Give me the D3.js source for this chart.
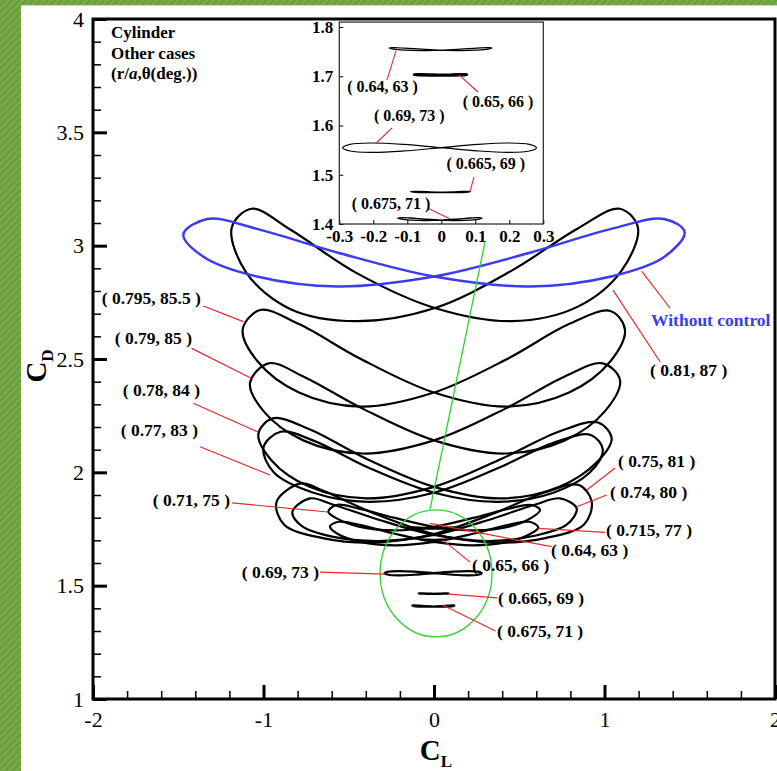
<!DOCTYPE html>
<html><head><meta charset="utf-8">
<script src="https://cdn.jsdelivr.net/npm/d3@7"></script>
<style>body{margin:0;background:#fff;} svg{display:block;}</style>
</head><body>
<script>
// ---------- DATA (CL, CD) ----------
const withoutControl = [[0,2.864],[0.563,2.969],[1.039,3.074],[1.35,3.118],[1.47,3.06],[1.35,2.95],[1.039,2.864],[0.563,2.82],
  [0,2.864],[-0.563,2.969],[-1.039,3.074],[-1.33,3.118],[-1.47,3.05],[-1.35,2.95],[-1.039,2.864],[-0.563,2.82]];
const case081 = [[0.005,2.725],[0.456,2.89],[0.841,3.075],[1.09,3.163],[1.196,3.08],[1.1,2.89],[0.841,2.73],[0.456,2.667],
  [0.005,2.725],[-0.456,2.88],[-0.841,3.07],[-1.07,3.163],[-1.186,3.08],[-1.1,2.88],[-0.841,2.72],[-0.456,2.667]];
const case0795 = [[0,2.352],[0.429,2.5],[0.792,2.654],[1.035,2.712],[1.12,2.63],[1.035,2.49],[0.792,2.352],[0.429,2.29],
  [0,2.352],[-0.429,2.5],[-0.792,2.654],[-1.02,2.716],[-1.122,2.63],[-1.035,2.49],[-0.792,2.352],[-0.429,2.29]];
const case079 = [[0,2.141],[0.416,2.28],[0.767,2.423],[0.99,2.481],[1.091,2.407],[1.003,2.27],[0.767,2.141],[0.416,2.083],
  [0,2.141],[-0.416,2.28],[-0.767,2.423],[-0.97,2.481],[-1.079,2.395],[-1.0,2.27],[-0.767,2.141],[-0.416,2.083]];
const case078 = [[0,1.936],[0.397,2.06],[0.735,2.18],[0.962,2.22],[1.042,2.15],[0.962,2.05],[0.735,1.936],[0.397,1.885],
  [0,1.936],[-0.397,2.06],[-0.73,2.19],[-0.945,2.238],[-1.03,2.17],[-0.95,2.05],[-0.73,1.936],[-0.397,1.885]];
const case077 = [[0,1.91],[0.38,2.02],[0.7,2.13],[0.92,2.165],[0.99,2.1],[0.915,2.0],[0.7,1.91],[0.38,1.87],
  [0,1.91],[-0.383,2.02],[-0.707,2.14],[-0.9,2.179],[-1.0,2.11],[-0.94,2.0],[-0.707,1.91],[-0.383,1.87]];
const case075 = [[0,1.728],[0.354,1.82],[0.653,1.912],[0.85,1.944],[0.925,1.87],[0.88,1.77],[0.653,1.71],[0.354,1.69],
  [0,1.728],[-0.354,1.82],[-0.653,1.92],[-0.78,1.951],[-0.923,1.87],[-0.88,1.77],[-0.653,1.71],[-0.354,1.69]];
const case074 = [[0,1.724],[0.32,1.79],[0.59,1.857],[0.74,1.885],[0.837,1.84],[0.78,1.77],[0.59,1.72],[0.32,1.697],
  [0,1.724],[-0.32,1.79],[-0.59,1.857],[-0.727,1.885],[-0.831,1.825],[-0.77,1.76],[-0.59,1.715],[-0.32,1.697]];
const case0715 = [[0,1.693],[0.234,1.73],[0.43,1.767],[0.56,1.782],[0.612,1.757],[0.564,1.728],[0.43,1.693],[0.234,1.678],
  [0,1.693],[-0.234,1.73],[-0.43,1.767],[-0.56,1.782],[-0.61,1.761],[-0.564,1.728],[-0.43,1.693],[-0.234,1.678]];
const case071 = [[0,1.76],[0.237,1.8],[0.44,1.84],[0.573,1.856],[0.622,1.834],[0.573,1.8],[0.44,1.76],[0.237,1.744],
  [0,1.76],[-0.237,1.8],[-0.44,1.84],[-0.573,1.856],[-0.62,1.826],[-0.573,1.798],[-0.44,1.76],[-0.237,1.744]];
const case064 = [[0,1.7529],[0.057,1.755],[0.106,1.7571],[0.138,1.758],[0.149,1.7571],[0.138,1.755],[0.106,1.7529],[0.057,1.752],
  [0,1.7529],[-0.058,1.755],[-0.108,1.7571],[-0.141,1.758],[-0.153,1.7571],[-0.141,1.755],[-0.108,1.7529],[-0.058,1.752]];
const case065 = [[0,1.7025],[0.03,1.703],[0.055,1.7035],[0.072,1.7037],[0.075,1.7035],[0.072,1.703],[0.055,1.7025],[0.03,1.7023],
  [0,1.7025],[-0.03,1.703],[-0.057,1.7035],[-0.074,1.7037],[-0.08,1.7035],[-0.074,1.703],[-0.057,1.7025],[-0.03,1.7023]];
const case069 = [[0,1.555],[0.107,1.5617],[0.198,1.5645],[0.259,1.5617],[0.28,1.555],[0.259,1.5483],[0.198,1.5455],[0.107,1.5483],
  [0,1.555],[-0.111,1.5617],[-0.205,1.5645],[-0.268,1.5617],[-0.29,1.555],[-0.268,1.5483],[-0.205,1.5455],[-0.111,1.5483]];
const case0665 = [[0,1.4643],[0.033,1.465],[0.061,1.4657],[0.079,1.466],[0.086,1.4657],[0.079,1.465],[0.061,1.4643],[0.033,1.464],
  [0,1.4643],[-0.034,1.465],[-0.064,1.4657],[-0.083,1.466],[-0.09,1.4657],[-0.083,1.465],[-0.064,1.4643],[-0.034,1.464]];
const case0675 = [[0,1.4079],[0.046,1.41],[0.085,1.4121],[0.111,1.413],[0.12,1.4121],[0.111,1.41],[0.085,1.4079],[0.046,1.407],
  [0,1.4079],[-0.049,1.41],[-0.09,1.4121],[-0.118,1.413],[-0.128,1.4121],[-0.118,1.41],[-0.09,1.4079],[-0.049,1.407]];

const xTickLabels = [-2,-1,0,1,2];
const yTickLabels = [1,1.5,2,2.5,3,3.5,4];
const insetXTicks = [-0.3,-0.2,-0.1,0,0.1,0.2,0.3];
const insetYTicks = [1.4,1.5,1.6,1.7,1.8];
const legendLines = ["Cylinder","Other cases"];

const blackCases = [case081, case0795, case079, case078, case077, case075, case074, case0715, case071,
                    case064, case065, case069, case0665, case0675];
const insetCases = [case064, case065, case069, case0665, case0675];
const insetWidths = [1.2, 3, 1.2, 1.6, 1.4];

// annotations (data coordinates)
const mainNotes = [
  {t:"Without control", a:"start", p:[1.273,2.672], l:[[1.218,2.888],[1.384,2.725]], blue:true},
  {t:"( 0.81, 87 )", a:"start", p:[1.267,2.451], l:[[1.050,2.804],[1.326,2.488]]},
  {t:"( 0.795, 85.5 )", a:"end", p:[-1.367,2.769], l:[[-1.353,2.734],[-1.118,2.665]]},
  {t:"( 0.79, 85 )", a:"end", p:[-1.419,2.593], l:[[-1.421,2.547],[-1.069,2.414]]},
  {t:"( 0.78, 84 )", a:"end", p:[-1.372,2.363], l:[[-1.412,2.305],[-1.030,2.177]]},
  {t:"( 0.77, 83 )", a:"end", p:[-1.384,2.187], l:[[-1.372,2.113],[-0.962,1.988]]},
  {t:"( 0.71, 75 )", a:"end", p:[-1.196,1.878], l:[[-1.185,1.865],[-0.622,1.825]]},
  {t:"( 0.69, 73 )", a:"end", p:[-0.674,1.560], l:[[-0.669,1.560],[-0.287,1.551]]},
  {t:"( 0.75, 81 )", a:"start", p:[1.079,2.050], l:[[0.896,1.922],[1.062,2.019]]},
  {t:"( 0.74, 80 )", a:"start", p:[1.032,1.913], l:[[0.837,1.848],[1.013,1.900]]},
  {t:"( 0.715, 77 )", a:"start", p:[1.009,1.746], l:[[0.612,1.753],[1.003,1.735]]},
  {t:"( 0.64, 63 )", a:"start", p:[0.686,1.657], l:[[-0.023,1.775],[0.690,1.672]]},
  {t:"( 0.65, 66 )", a:"start", p:[0.223,1.591], l:[[0.053,1.701],[0.211,1.604]]},
  {t:"( 0.665, 69 )", a:"start", p:[0.375,1.446], l:[[0.088,1.463],[0.370,1.446]]},
  {t:"( 0.675, 71 )", a:"start", p:[0.370,1.300], l:[[0.050,1.415],[0.361,1.300]]}
];
const insetNotes = [
  {t:"( 0.64, 63 )", p:[-0.173,1.680], l:[[-0.133,1.752],[-0.160,1.692]]},
  {t:"( 0.65, 66 )", p:[0.167,1.648], l:[[0.052,1.703],[0.108,1.668]]},
  {t:"( 0.69, 73 )", p:[-0.094,1.621], l:[[-0.192,1.564],[-0.145,1.595]]},
  {t:"( 0.665, 69 )", p:[0.131,1.524], l:[[0.096,1.495],[0.084,1.465]]},
  {t:"( 0.675, 71 )", p:[-0.148,1.441], l:[[-0.039,1.432],[0.026,1.410]]}
];
const zoomCenter = [0.012,1.554], zoomRadii = [0.328,0.280];
const zoomLink = [[-0.023,1.838],[0.299,3.016]];

// ---------- DRAWING ----------
const W=777,H=771, FONT='"Liberation Serif","Times New Roman",serif';
const BLUE="#3b3bf2", RED="#e8282b", GREEN="#2fd12f";
const hy=s=>String(s).replace("\u2212","-");
const svg=d3.select("body").append("svg").attr("width",W).attr("height",H);
const defs=svg.append("defs");
const pat=defs.append("pattern").attr("id","stripes").attr("width",5).attr("height",5)
  .attr("patternUnits","userSpaceOnUse").attr("patternTransform","rotate(45)");
pat.append("rect").attr("width",5).attr("height",5).attr("fill","#6b9b3e");
pat.append("rect").attr("width",2.5).attr("height",5).attr("fill","#79ac4a");
svg.append("rect").attr("width",W).attr("height",H).attr("fill","#fff");
svg.append("rect").attr("x",0).attr("y",0).attr("width",W).attr("height",5).attr("fill","url(#stripes)");
svg.append("rect").attr("x",0).attr("y",0).attr("width",21).attr("height",H).attr("fill","url(#stripes)");
svg.append("line").attr("x1",21).attr("x2",W).attr("y1",5.5).attr("y2",5.5).attr("stroke","#c9dfb4").attr("stroke-width",1);

const x=d3.scaleLinear().domain([-2,2]).range([93,775]);
const y=d3.scaleLinear().domain([1,4]).range([699,19]);

const line=(sx,sy)=>d3.line().x(d=>sx(d[0])).y(d=>sy(d[1])).curve(d3.curveCatmullRomClosed.alpha(0.5));

// curves
const g=svg.append("g");
g.selectAll("path.blk").data(blackCases).join("path").attr("class","blk")
  .attr("d",line(x,y)).attr("fill","none").attr("stroke","#000").attr("stroke-width",2.2).attr("stroke-linejoin","round");
g.append("path").datum(withoutControl).attr("d",line(x,y)).attr("fill","none").attr("stroke",BLUE).attr("stroke-width",2.5);

// green zoom marker
g.append("ellipse").attr("cx",x(zoomCenter[0])).attr("cy",y(zoomCenter[1]))
  .attr("rx",x(zoomRadii[0])-x(0)).attr("ry",y(1)-y(1+zoomRadii[1]))
  .attr("fill","none").attr("stroke",GREEN).attr("stroke-width",1.3);
g.append("line").attr("x1",x(zoomLink[0][0])).attr("y1",y(zoomLink[0][1]))
  .attr("x2",x(zoomLink[1][0])).attr("y2",y(zoomLink[1][1])).attr("stroke",GREEN).attr("stroke-width",1.3);

// annotations
mainNotes.forEach(n=>{
  g.append("line").attr("x1",x(n.l[0][0])).attr("y1",y(n.l[0][1])).attr("x2",x(n.l[1][0])).attr("y2",y(n.l[1][1]))
    .attr("stroke",RED).attr("stroke-width",1.2);
  g.append("text").attr("x",x(n.p[0])).attr("y",y(n.p[1])).attr("dy","0.35em").attr("text-anchor",n.a)
    .attr("font-family",FONT).attr("font-weight","bold").attr("font-size",17.5)
    .attr("fill",n.blue?BLUE:"#000").text(n.t);
});

// axes
const xAxis=d3.axisBottom(x).tickValues(xTickLabels).tickSize(-14).tickPadding(12).tickFormat(d=>hy(d));
const xMinor=d3.axisBottom(x).tickValues(x.ticks(20).filter(v=>Math.abs(v-Math.round(v))>1e-6)).tickSize(-8).tickFormat("");
const yAxis=d3.axisLeft(y).tickValues(yTickLabels).tickSize(-14).tickPadding(9).tickFormat(d=>hy(d));
const yMinor=d3.axisLeft(y).tickValues(y.ticks(30).filter(v=>Math.abs(v*2-Math.round(v*2))>1e-6)).tickSize(-8).tickFormat("");
function styleAxis(sel,w){sel.select(".domain").remove();sel.selectAll("line").attr("stroke","#000").attr("stroke-width",w);
  sel.selectAll("text").attr("font-family",FONT).attr("font-size",22).attr("fill","#000");}
svg.append("g").attr("transform","translate(0,699)").call(xMinor).call(s=>styleAxis(s,1.5));
svg.append("g").attr("transform","translate(0,699)").call(xAxis).call(s=>styleAxis(s,3));
svg.append("g").attr("transform","translate(93,0)").call(yMinor).call(s=>styleAxis(s,1.5));
svg.append("g").attr("transform","translate(93,0)").call(yAxis).call(s=>styleAxis(s,3));
svg.append("rect").attr("x",93).attr("y",19).attr("width",682).attr("height",680)
  .attr("fill","none").attr("stroke","#000").attr("stroke-width",3);

// axis titles
const xt=svg.append("text").attr("x",436).attr("y",760).attr("text-anchor","middle")
  .attr("font-family",FONT).attr("font-weight","bold").attr("font-size",29);
xt.append("tspan").text("C");
xt.append("tspan").attr("font-size",17).attr("dy",7).text("L");
const yt=svg.append("text").attr("transform","translate(46,366) rotate(-90)").attr("text-anchor","middle")
  .attr("font-family",FONT).attr("font-weight","bold").attr("font-size",29);
yt.append("tspan").text("C");
yt.append("tspan").attr("font-size",17).attr("dy",7).text("D");

// legend text
legendLines.forEach((t,i)=>svg.append("text").attr("x",111).attr("y",38+i*20.5)
  .attr("font-family",FONT).attr("font-weight","bold").attr("font-size",17).text(t));
const lt=svg.append("text").attr("x",111).attr("y",79).attr("font-family",FONT).attr("font-weight","bold").attr("font-size",17);
lt.append("tspan").text("(r/");
lt.append("tspan").attr("font-style","italic").text("a");
lt.append("tspan").text(",\u03b8(deg.))");

// ---------- INSET ----------
const xi=d3.scaleLinear().domain([-0.3,0.3]).range([339.3,543.3]);
const yi=d3.scaleLinear().domain([1.4,1.81]).range([224,22.1]);
const ig=svg.append("g");
ig.append("rect").attr("x",339.3).attr("y",22.1).attr("width",204).attr("height",201.9).attr("fill","#fff");
defs.append("clipPath").attr("id","iclip").append("rect").attr("x",339.3).attr("y",22.1).attr("width",204).attr("height",201.9);
const ic=ig.append("g").attr("clip-path","url(#iclip)");
ic.selectAll("path").data(insetCases).join("path").attr("d",line(xi,yi))
  .attr("fill","none").attr("stroke","#000").attr("stroke-width",(d,i)=>insetWidths[i]);
insetNotes.forEach(n=>{
  ig.append("line").attr("x1",xi(n.l[0][0])).attr("y1",yi(n.l[0][1])).attr("x2",xi(n.l[1][0])).attr("y2",yi(n.l[1][1]))
    .attr("stroke",RED).attr("stroke-width",1.1);
  ig.append("text").attr("x",xi(n.p[0])).attr("y",yi(n.p[1])).attr("dy","0.35em").attr("text-anchor","middle")
    .attr("font-family",FONT).attr("font-weight","bold").attr("font-size",16).text(n.t);
});
const ixA=d3.axisBottom(xi).tickValues(insetXTicks).tickSize(-4).tickPadding(6).tickFormat(d=>d===0?"0":hy(d3.format(".1f")(d)));
const iyA=d3.axisLeft(yi).tickValues(insetYTicks).tickSize(-4).tickPadding(6).tickFormat(d3.format(".1f"));
function styleI(sel){sel.select(".domain").remove();sel.selectAll("line").attr("stroke","#000").attr("stroke-width",1);
  sel.selectAll("text").attr("font-family",FONT).attr("font-weight","bold").attr("font-size",17).attr("fill","#000");}
ig.append("g").attr("transform","translate(0,224)").call(ixA).call(styleI);
ig.append("g").attr("transform","translate(339.3,0)").call(iyA).call(styleI);
ig.append("rect").attr("x",339.3).attr("y",22.1).attr("width",204).attr("height",201.9)
  .attr("fill","none").attr("stroke","#222").attr("stroke-width",1.2);
</script>
</body></html>
